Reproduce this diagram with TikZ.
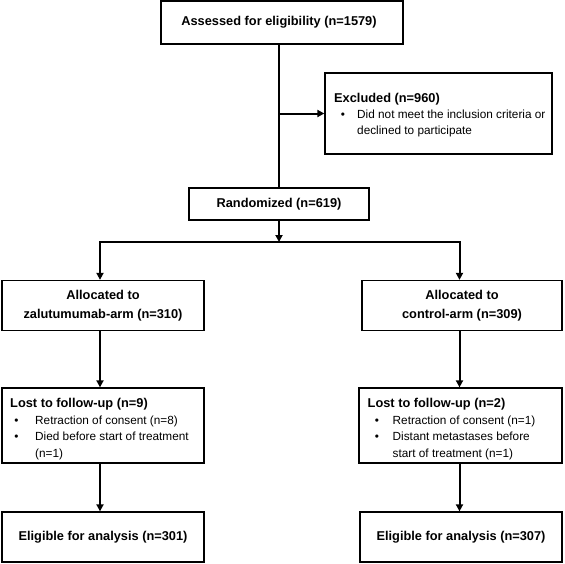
\documentclass[tikz,border=0pt]{standalone}
\usepackage{fontspec}
\setmainfont{Liberation Sans}
\usetikzlibrary{arrows.meta}
\begin{document}
\begin{tikzpicture}[x=1pt,y=-1pt,
  box/.style={draw, line width=1.3pt, inner sep=0pt, align=center,
    font=\bfseries\fontsize{12.8}{19}\selectfont},
  conn/.style={line width=2pt, line join=miter},
  tip/.tip={Triangle[length=7pt,width=7pt]},
  arr/.style={conn, -tip},
  title/.style={anchor=base west, inner sep=0pt, font=\bfseries\fontsize{12.8}{15}\selectfont},
  txt/.style={anchor=base west, inner sep=0pt, font=\fontsize{11.8}{14}\selectfont},
  bul/.style={anchor=base, inner sep=0pt, font=\fontsize{11.8}{14}\selectfont}
]
\useasboundingbox (0,0) rectangle (565,563);
\fill[white] (0,0) rectangle (565,563);

% boxes
\node[box, minimum width=242pt, minimum height=43pt] (A) at (282,22.5) {\hspace*{-6pt}Assessed for eligibility (n=1579)};
\node[box, minimum width=227pt, minimum height=81pt] (E) at (438.5,113.5) {};
\node[box, minimum width=180pt, minimum height=32pt] (R) at (279,204) {Randomized (n=619)};
\node[box, minimum width=202pt, minimum height=50pt] (L1) at (103,305.5) {Allocated to\\zalutumumab-arm (n=310)};
\node[box, minimum width=200pt, minimum height=50pt] (R1) at (462,305.5) {Allocated to\\control-arm (n=309)};
\node[box, minimum width=202pt, minimum height=75pt] (L2) at (103,425.5) {};
\node[box, minimum width=203pt, minimum height=75pt] (R2) at (460.5,425.5) {};
\node[box, minimum width=202pt, minimum height=50pt] (L3) at (103,537) {Eligible for analysis (n=301)};
\node[box, minimum width=202pt, minimum height=50pt] (R3) at (461,537) {Eligible for analysis (n=307)};

% texts in Excluded box
\node[title] (Et) at (334,102.5) {Excluded (n=960)};
\node[bul] (Eb1) at (343,118.3) {•};
\node[txt] (Ea) at (357,118.3) {Did not meet the inclusion criteria or};
\node[txt] (Eb) at (357,134.3) {declined to participate};

% texts in left lost box
\node[title] (Lt) at (10,407.7) {Lost to follow-up (n=9)};
\node[bul] (Lb1) at (16.5,424.3) {•};
\node[txt] (La) at (35,424.3) {Retraction of consent (n=8)};
\node[bul] (Lb2) at (16.5,440.8) {•};
\node[txt] (Lb) at (35,440.8) {Died before start of treatment};
\node[txt] (Lc) at (35,457) {(n=1)};

% texts in right lost box
\node[title] (Rt) at (367.5,407.7) {Lost to follow-up (n=2)};
\node[bul] (Rb1) at (377,424.3) {•};
\node[txt] (Ra) at (392.5,424.3) {Retraction of consent (n=1)};
\node[bul] (Rb2) at (377,440.8) {•};
\node[txt] (Rb) at (392.5,440.8) {Distant metastases before};
\node[txt] (Rc) at (392.5,457) {start of treatment (n=1)};

% connectors
\coordinate (split) at (279,242);
\coordinate (sl) at (100,242);
\coordinate (sr) at (459.5,242);
\draw[conn] (A.south -| R.north) -- (R.north);
\draw[arr] (E.west -| R.north) -- (E.west);
\draw[arr] (R.south) -- (split);
\draw[conn, tip-tip] (sl |- L1.north) -- (sl) -- (sr) -- (sr |- R1.north);
\draw[arr] (sl |- L1.south) -- (sl |- L2.north);
\draw[arr] (sr |- R1.south) -- (sr |- R2.north);
\draw[arr] (sl |- L2.south) -- (sl |- L3.north);
\draw[arr] (sr |- R2.south) -- (sr |- R3.north);
\end{tikzpicture}
\end{document}
